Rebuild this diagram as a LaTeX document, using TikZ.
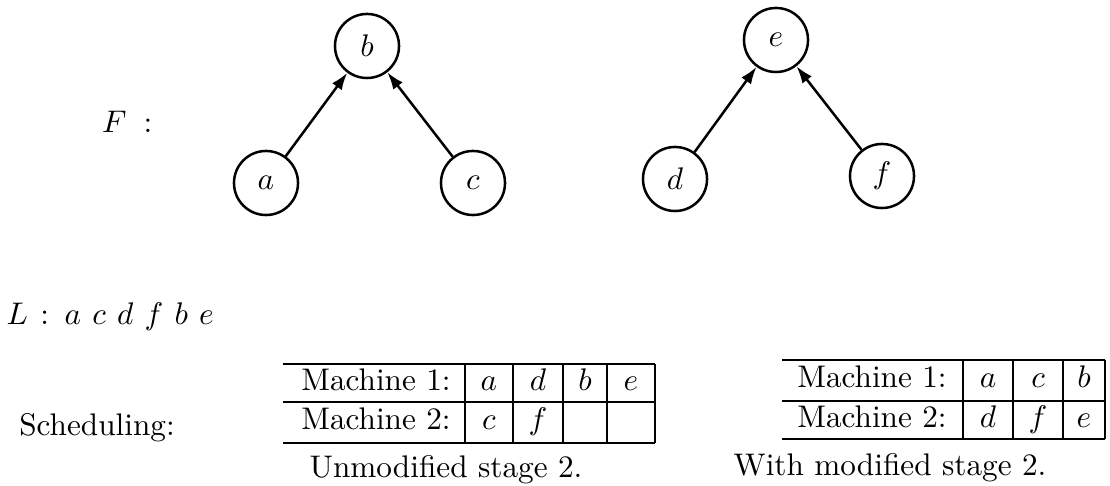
\documentclass[tikz,border=0pt]{standalone}
\usetikzlibrary{arrows.meta}
\begin{document}
\begin{tikzpicture}[x=0.32pt,y=-0.32pt,
  vert/.style={circle,draw,line width=0.8pt,minimum size=20.5pt,inner sep=0pt},
  arr/.style={line width=0.8pt,-{Latex[length=5.5pt,width=3.8pt]}},
  cell/.style={inner sep=0pt,text height=6.9pt,text depth=1.9pt},
  rule/.style={line width=0.55pt}]
\useasboundingbox (0,0) rectangle (1110,486);

% forest F
\node[anchor=west] (F) at (91,122) {$F$\hspace{5.5pt}:};
\node[vert] (b) at (367,46) {$b$};
\node[vert] (a) at (266,183) {$a$};
\node[vert] (c) at (473,183) {$c$};
\node[vert] (e) at (776,40) {$e$};
\node[vert] (d) at (675,179) {$d$};
\node[vert] (f) at (882,176) {$f$};
\draw[arr] (a) -- (b);
\draw[arr] (c) -- (b);
\draw[arr] (d) -- (e);
\draw[arr] (f) -- (e);

% list L
\node[anchor=west,inner sep=0pt] (L) at (6,317)
  {$L\hspace{4pt}{:}\hspace{5pt}a\hspace{3.6pt}c\hspace{3.6pt}d\hspace{3.6pt}f\hspace{3.6pt}b\hspace{3.6pt}e$};

\node (sched) at (97,428) {Scheduling:};

% unmodified schedule
\draw[rule] (283,364) -- (655,364) (283,402) -- (655,402) (283,443) -- (655,443);
\foreach \x in {465,513,563,607,655} \draw[rule] (\x,364) -- (\x,443);
\node[cell] (u11) at (376,383) {Machine 1:};
\node[cell] (u21) at (376,422) {Machine 2:};
\node[cell] (u12) at (489,383) {$a$};
\node[cell] (u13) at (538,383) {$d$};
\node[cell] (u14) at (585,383) {$b$};
\node[cell] (u15) at (631,383) {$e$};
\node[cell] (u22) at (489,422) {$c$};
\node[cell] (u23) at (538,422) {$f$};
\node (ucap) at (446,470) {Unmodified stage 2.};

% modified schedule
\draw[rule] (782,360) -- (1105,360) (782,401) -- (1105,401) (782,439) -- (1105,439);
\foreach \x in {963,1013,1063,1105} \draw[rule] (\x,360) -- (\x,439);
\node[cell] (m11) at (872,380) {Machine 1:};
\node[cell] (m21) at (872,420) {Machine 2:};
\node[cell] (m12) at (988,380) {$a$};
\node[cell] (m13) at (1038,380) {$c$};
\node[cell] (m14) at (1084,380) {$b$};
\node[cell] (m22) at (988,420) {$d$};
\node[cell] (m23) at (1038,420) {$f$};
\node[cell] (m24) at (1084,420) {$e$};
\node (mcap) at (890,468) {With modified stage 2.};
\end{tikzpicture}
\end{document}
